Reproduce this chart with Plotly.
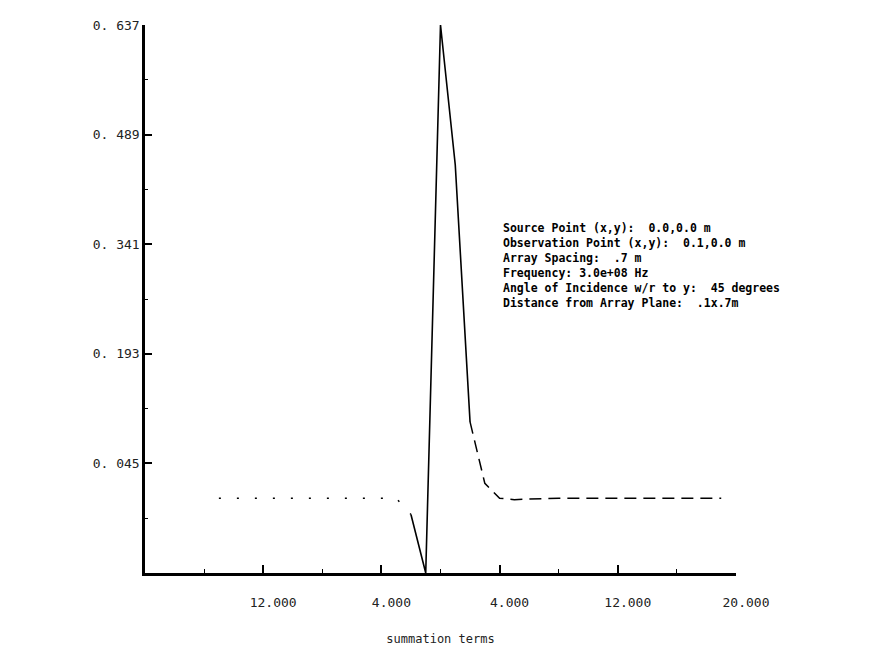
import plotly.graph_objects as go

# summation term index and the plotted value at each term
terms_left = [-15, -14, -13, -12, -11, -10, -9, -8, -7, -6, -5, -4, -3, -2]
vals_left = [-0.002, -0.002, -0.002, -0.002, -0.002, -0.002, -0.002, -0.002,
             -0.002, -0.002, -0.002, -0.002, -0.002, -0.024]

terms_core = [-2, -1, 0, 1, 2]
vals_core = [-0.024, -0.103, 0.637, 0.448, 0.101]

terms_right = [2, 3, 4, 5, 6, 7, 8, 9, 10, 11, 12, 13, 14, 15, 16, 17, 18, 19]
vals_right = [0.101, 0.018, -0.002, -0.004, -0.003, -0.002, -0.002, -0.002, -0.002,
              -0.002, -0.002, -0.002, -0.002, -0.002, -0.002, -0.002, -0.002, -0.002]

x_tick_vals = [-12, -4, 4, 12, 20]
x_tick_text = ["12.000", "4.000", "4.000", "12.000", "20.000"]
y_tick_vals = [0.045, 0.193, 0.341, 0.489, 0.637]
y_tick_text = ["0. 045", "0. 193", "0. 341", "0. 489", "0. 637"]

info_lines = [
    "Source Point (x,y):  0.0,0.0 m",
    "Observation Point (x,y):  0.1,0.0 m",
    "Array Spacing:  .7 m",
    "Frequency: 3.0e+08 Hz",
    "Angle of Incidence w/r to y:  45 degrees",
    "Distance from Array Plane:  .1x.7m",
]

mono = "DejaVu Sans Mono"

fig = go.Figure()
fig.add_trace(go.Scatter(x=terms_left, y=vals_left, mode="lines",
                         line=dict(color="black", width=1.5, dash="2px,16px")))
fig.add_trace(go.Scatter(x=terms_core, y=vals_core, mode="lines",
                         line=dict(color="black", width=1.6)))
fig.add_trace(go.Scatter(x=terms_right, y=vals_right, mode="lines",
                         line=dict(color="black", width=1.5, dash="12px,7px")))

# parameter block
fig.add_annotation(text="<br>".join(info_lines), xref="paper", yref="paper",
                   x=0.603, y=0.562, xanchor="left", yanchor="middle",
                   align="left", showarrow=False,
                   font=dict(family=mono, size=11.5, color="black", weight="bold"))

fig.update_xaxes(range=[-20, 20], tickmode="array", tickvals=x_tick_vals,
                 ticktext=x_tick_text, ticks="inside", ticklen=8, tickwidth=1.5,
                 tickcolor="black", showline=True, linecolor="black", linewidth=2.5,
                 showgrid=False, zeroline=False, ticklabelshift=10,
                 ticklabelstandoff=16,
                 tickfont=dict(family=mono, size=13, color="#222"),
                 minor=dict(tickmode="linear", tick0=-20, dtick=4, ticks="inside",
                            ticklen=4, tickwidth=1.2, tickcolor="black"),
                 title=dict(text="summation terms", standoff=26,
                            font=dict(family=mono, size=12, color="#222")))
fig.update_yaxes(range=[-0.103, 0.637], tickmode="array", tickvals=y_tick_vals,
                 ticktext=y_tick_text, ticks="inside", ticklen=7, tickwidth=1.5,
                 tickcolor="black", showline=True, linecolor="black", linewidth=2.5,
                 showgrid=False, zeroline=False,
                 tickfont=dict(family=mono, size=13, color="#222"),
                 minor=dict(tickmode="linear", tick0=-0.103, dtick=0.074,
                            ticks="inside", ticklen=3, tickwidth=1.2,
                            tickcolor="black"))

fig.update_layout(width=875, height=652, showlegend=False,
                  plot_bgcolor="white", paper_bgcolor="white",
                  margin=dict(l=137, r=147, t=10, b=87))

fig.write_html("out.html")
